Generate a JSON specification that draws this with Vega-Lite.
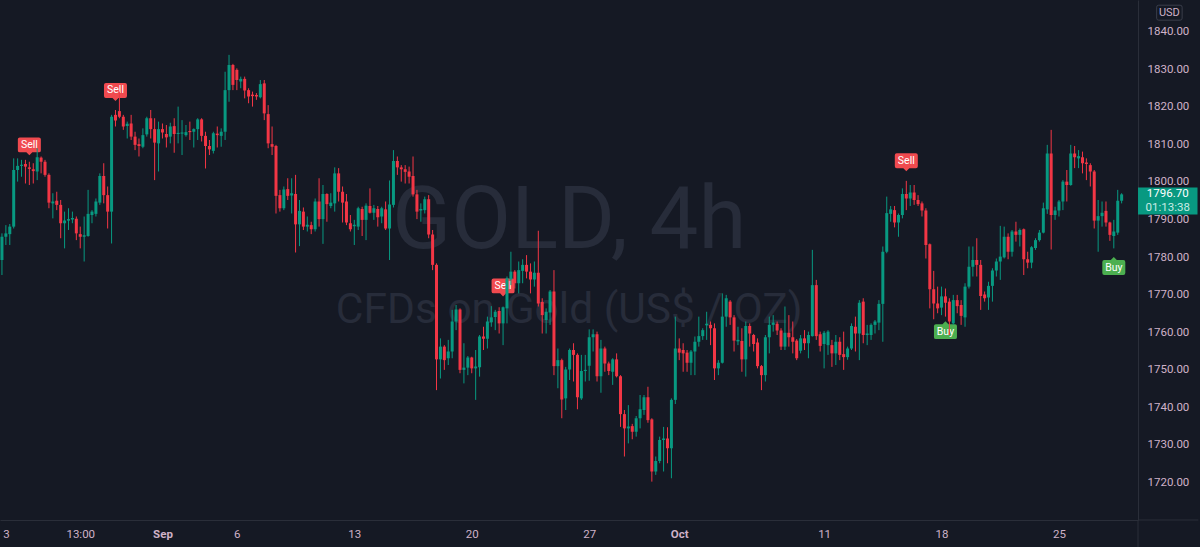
{
  "$schema": "https://vega.github.io/schema/vega-lite/v6.json",
  "width": 1138,
  "height": 520,
  "autosize": {"type": "none"},
  "padding": {"left": 0, "top": 0, "right": 62, "bottom": 27},
  "background": "#151924",
  "config": {"view": {"stroke": null}, "font": "Roboto"},
  "datasets": {
    "candles": [
      {"i":0,"o":1779.2,"h":1786.3,"l":1775.2,"c":1785.4},
      {"i":1,"o":1785.4,"h":1788.5,"l":1783.2,"c":1786.3},
      {"i":2,"o":1786.1,"h":1788.8,"l":1783.2,"c":1788.1},
      {"i":3,"o":1788.1,"h":1806.3,"l":1787.6,"c":1803.2},
      {"i":4,"o":1803.2,"h":1806.3,"l":1800.1,"c":1804.3},
      {"i":5,"o":1804.3,"h":1805.9,"l":1801.4,"c":1804.6},
      {"i":6,"o":1804.8,"h":1805.9,"l":1799.6,"c":1804.1},
      {"i":7,"o":1803.9,"h":1805.4,"l":1799.2,"c":1803.5},
      {"i":8,"o":1803.4,"h":1805.0,"l":1799.6,"c":1802.9},
      {"i":9,"o":1802.8,"h":1809.0,"l":1800.5,"c":1806.6},
      {"i":10,"o":1806.5,"h":1806.8,"l":1802.3,"c":1805.4},
      {"i":11,"o":1805.4,"h":1805.9,"l":1801.4,"c":1801.9},
      {"i":12,"o":1801.9,"h":1802.3,"l":1793.0,"c":1794.5},
      {"i":13,"o":1794.3,"h":1797.0,"l":1790.3,"c":1794.8},
      {"i":14,"o":1795.0,"h":1797.4,"l":1792.5,"c":1793.9},
      {"i":15,"o":1793.9,"h":1795.2,"l":1785.0,"c":1789.0},
      {"i":16,"o":1789.0,"h":1792.1,"l":1782.3,"c":1789.7},
      {"i":17,"o":1789.7,"h":1793.0,"l":1787.2,"c":1790.1},
      {"i":18,"o":1790.0,"h":1792.1,"l":1789.0,"c":1790.4},
      {"i":19,"o":1790.2,"h":1790.8,"l":1784.5,"c":1786.3},
      {"i":20,"o":1786.1,"h":1788.1,"l":1782.3,"c":1785.4},
      {"i":21,"o":1785.4,"h":1790.8,"l":1778.8,"c":1785.8},
      {"i":22,"o":1785.6,"h":1797.9,"l":1785.4,"c":1791.5},
      {"i":23,"o":1791.2,"h":1792.5,"l":1789.0,"c":1792.1},
      {"i":24,"o":1791.5,"h":1795.6,"l":1790.8,"c":1794.8},
      {"i":25,"o":1794.5,"h":1802.3,"l":1793.9,"c":1801.6},
      {"i":26,"o":1801.6,"h":1805.0,"l":1794.3,"c":1796.5},
      {"i":27,"o":1796.5,"h":1798.8,"l":1787.6,"c":1792.1},
      {"i":28,"o":1792.1,"h":1817.9,"l":1783.6,"c":1817.4},
      {"i":29,"o":1817.9,"h":1819.2,"l":1814.8,"c":1816.4},
      {"i":30,"o":1818.9,"h":1824.1,"l":1817.0,"c":1817.4},
      {"i":31,"o":1817.4,"h":1817.9,"l":1813.9,"c":1814.8},
      {"i":32,"o":1814.9,"h":1816.1,"l":1811.6,"c":1815.5},
      {"i":33,"o":1815.6,"h":1817.9,"l":1811.2,"c":1812.1},
      {"i":34,"o":1812.1,"h":1813.4,"l":1808.5,"c":1809.9},
      {"i":35,"o":1810.1,"h":1811.6,"l":1806.8,"c":1809.6},
      {"i":36,"o":1809.4,"h":1814.3,"l":1809.0,"c":1812.5},
      {"i":37,"o":1812.7,"h":1817.4,"l":1812.1,"c":1817.0},
      {"i":38,"o":1817.0,"h":1819.2,"l":1811.6,"c":1814.1},
      {"i":39,"o":1814.1,"h":1817.0,"l":1800.5,"c":1810.5},
      {"i":40,"o":1810.3,"h":1816.1,"l":1802.8,"c":1814.1},
      {"i":41,"o":1814.1,"h":1815.6,"l":1811.6,"c":1813.2},
      {"i":42,"o":1812.8,"h":1815.2,"l":1809.2,"c":1811.9},
      {"i":43,"o":1812.1,"h":1815.8,"l":1810.3,"c":1814.8},
      {"i":44,"o":1814.9,"h":1817.0,"l":1807.8,"c":1812.8},
      {"i":45,"o":1812.8,"h":1820.1,"l":1810.3,"c":1813.1},
      {"i":46,"o":1812.9,"h":1816.5,"l":1807.2,"c":1813.2},
      {"i":47,"o":1812.5,"h":1815.2,"l":1812.1,"c":1813.3},
      {"i":48,"o":1813.6,"h":1816.1,"l":1811.2,"c":1813.3},
      {"i":49,"o":1813.4,"h":1814.3,"l":1809.2,"c":1814.1},
      {"i":50,"o":1814.1,"h":1817.0,"l":1811.2,"c":1816.7},
      {"i":51,"o":1816.7,"h":1817.0,"l":1810.8,"c":1812.3},
      {"i":52,"o":1812.3,"h":1813.4,"l":1803.6,"c":1809.6},
      {"i":53,"o":1809.6,"h":1811.2,"l":1807.2,"c":1808.7},
      {"i":54,"o":1808.3,"h":1813.4,"l":1807.6,"c":1813.0},
      {"i":55,"o":1812.9,"h":1814.8,"l":1809.2,"c":1812.5},
      {"i":56,"o":1812.3,"h":1814.3,"l":1809.4,"c":1813.4},
      {"i":57,"o":1813.4,"h":1829.4,"l":1811.2,"c":1824.5},
      {"i":58,"o":1824.5,"h":1833.9,"l":1821.4,"c":1831.2},
      {"i":59,"o":1831.2,"h":1831.5,"l":1824.5,"c":1825.9},
      {"i":60,"o":1829.9,"h":1830.3,"l":1824.5,"c":1827.2},
      {"i":61,"o":1826.8,"h":1828.1,"l":1825.0,"c":1827.5},
      {"i":62,"o":1827.5,"h":1828.1,"l":1822.3,"c":1824.4},
      {"i":63,"o":1824.5,"h":1825.0,"l":1821.0,"c":1822.8},
      {"i":64,"o":1823.3,"h":1824.1,"l":1820.1,"c":1822.9},
      {"i":65,"o":1823.2,"h":1823.7,"l":1821.9,"c":1822.8},
      {"i":66,"o":1822.6,"h":1827.2,"l":1822.3,"c":1826.1},
      {"i":67,"o":1826.3,"h":1827.2,"l":1816.5,"c":1818.3},
      {"i":68,"o":1818.1,"h":1820.5,"l":1809.0,"c":1810.3},
      {"i":69,"o":1810.1,"h":1814.8,"l":1807.2,"c":1809.4},
      {"i":70,"o":1809.6,"h":1809.9,"l":1791.6,"c":1796.3},
      {"i":71,"o":1796.5,"h":1797.9,"l":1792.1,"c":1793.0},
      {"i":72,"o":1793.0,"h":1798.8,"l":1792.5,"c":1798.0},
      {"i":73,"o":1798.1,"h":1801.0,"l":1795.2,"c":1796.3},
      {"i":74,"o":1796.4,"h":1801.0,"l":1791.6,"c":1797.0},
      {"i":75,"o":1796.8,"h":1801.9,"l":1781.2,"c":1788.7},
      {"i":76,"o":1788.7,"h":1795.2,"l":1782.9,"c":1792.3},
      {"i":77,"o":1792.1,"h":1793.2,"l":1787.2,"c":1788.1},
      {"i":78,"o":1788.1,"h":1790.8,"l":1786.8,"c":1788.6},
      {"i":79,"o":1788.5,"h":1789.4,"l":1786.1,"c":1787.4},
      {"i":80,"o":1787.4,"h":1795.6,"l":1786.8,"c":1794.8},
      {"i":81,"o":1794.8,"h":1801.0,"l":1788.1,"c":1790.1},
      {"i":82,"o":1790.1,"h":1799.2,"l":1783.5,"c":1796.8},
      {"i":83,"o":1796.8,"h":1797.0,"l":1789.4,"c":1794.1},
      {"i":84,"o":1793.6,"h":1797.0,"l":1793.0,"c":1794.5},
      {"i":85,"o":1794.3,"h":1803.9,"l":1792.1,"c":1802.3},
      {"i":86,"o":1802.3,"h":1803.7,"l":1794.8,"c":1797.4},
      {"i":87,"o":1797.4,"h":1798.8,"l":1789.2,"c":1794.5},
      {"i":88,"o":1794.8,"h":1796.8,"l":1788.5,"c":1789.2},
      {"i":89,"o":1789.0,"h":1791.2,"l":1786.8,"c":1787.4},
      {"i":90,"o":1788.2,"h":1789.9,"l":1783.2,"c":1788.6},
      {"i":91,"o":1788.1,"h":1793.4,"l":1787.2,"c":1793.0},
      {"i":92,"o":1792.8,"h":1793.4,"l":1785.6,"c":1789.9},
      {"i":93,"o":1789.9,"h":1794.3,"l":1784.5,"c":1793.7},
      {"i":94,"o":1793.6,"h":1798.3,"l":1791.6,"c":1791.8},
      {"i":95,"o":1791.8,"h":1793.9,"l":1789.9,"c":1793.0},
      {"i":96,"o":1792.8,"h":1793.6,"l":1788.1,"c":1790.6},
      {"i":97,"o":1790.8,"h":1793.4,"l":1789.0,"c":1793.0},
      {"i":98,"o":1792.7,"h":1794.8,"l":1787.2,"c":1787.6},
      {"i":99,"o":1787.6,"h":1800.4,"l":1779.2,"c":1794.0},
      {"i":100,"o":1793.9,"h":1808.5,"l":1793.2,"c":1805.6},
      {"i":101,"o":1805.6,"h":1806.8,"l":1801.9,"c":1803.9},
      {"i":102,"o":1803.9,"h":1804.5,"l":1800.1,"c":1803.4},
      {"i":103,"o":1803.4,"h":1804.5,"l":1799.6,"c":1802.7},
      {"i":104,"o":1802.8,"h":1804.1,"l":1799.6,"c":1801.4},
      {"i":105,"o":1801.6,"h":1806.8,"l":1796.1,"c":1796.7},
      {"i":106,"o":1796.7,"h":1797.9,"l":1790.1,"c":1792.1},
      {"i":107,"o":1792.4,"h":1794.3,"l":1789.4,"c":1792.8},
      {"i":108,"o":1792.5,"h":1796.1,"l":1791.6,"c":1795.4},
      {"i":109,"o":1795.4,"h":1796.5,"l":1785.0,"c":1786.0},
      {"i":110,"o":1786.0,"h":1787.2,"l":1776.5,"c":1777.9},
      {"i":111,"o":1777.9,"h":1778.3,"l":1744.5,"c":1752.7},
      {"i":112,"o":1752.7,"h":1758.3,"l":1747.6,"c":1756.1},
      {"i":113,"o":1756.1,"h":1756.5,"l":1749.9,"c":1752.5},
      {"i":114,"o":1753.0,"h":1757.9,"l":1751.2,"c":1754.8},
      {"i":115,"o":1754.8,"h":1765.9,"l":1753.0,"c":1762.8},
      {"i":116,"o":1762.8,"h":1767.2,"l":1760.5,"c":1766.0},
      {"i":117,"o":1766.0,"h":1766.3,"l":1749.0,"c":1749.9},
      {"i":118,"o":1749.9,"h":1757.0,"l":1746.3,"c":1750.5},
      {"i":119,"o":1750.5,"h":1753.6,"l":1748.5,"c":1753.2},
      {"i":120,"o":1753.2,"h":1753.4,"l":1749.0,"c":1750.3},
      {"i":121,"o":1750.3,"h":1755.2,"l":1741.9,"c":1750.8},
      {"i":122,"o":1750.6,"h":1759.2,"l":1748.1,"c":1758.8},
      {"i":123,"o":1758.8,"h":1761.4,"l":1755.2,"c":1758.2},
      {"i":124,"o":1758.2,"h":1764.1,"l":1755.6,"c":1762.8},
      {"i":125,"o":1762.6,"h":1766.9,"l":1761.4,"c":1763.9},
      {"i":126,"o":1764.0,"h":1765.9,"l":1760.5,"c":1765.4},
      {"i":127,"o":1765.6,"h":1766.6,"l":1759.6,"c":1762.3},
      {"i":128,"o":1762.3,"h":1766.8,"l":1756.5,"c":1766.6},
      {"i":129,"o":1766.3,"h":1774.8,"l":1762.3,"c":1774.3},
      {"i":130,"o":1774.0,"h":1781.4,"l":1772.5,"c":1776.1},
      {"i":131,"o":1776.1,"h":1776.5,"l":1771.6,"c":1773.0},
      {"i":132,"o":1773.0,"h":1778.8,"l":1770.3,"c":1776.5},
      {"i":133,"o":1776.3,"h":1779.4,"l":1773.0,"c":1777.9},
      {"i":134,"o":1777.9,"h":1780.5,"l":1774.3,"c":1776.1},
      {"i":135,"o":1776.1,"h":1778.3,"l":1770.3,"c":1774.0},
      {"i":136,"o":1774.0,"h":1778.8,"l":1772.1,"c":1775.8},
      {"i":137,"o":1775.8,"h":1787.0,"l":1766.8,"c":1767.6},
      {"i":138,"o":1768.0,"h":1769.0,"l":1759.6,"c":1764.5},
      {"i":139,"o":1763.2,"h":1766.3,"l":1759.6,"c":1765.4},
      {"i":140,"o":1765.2,"h":1771.2,"l":1761.9,"c":1770.8},
      {"i":141,"o":1770.8,"h":1776.5,"l":1748.5,"c":1750.9},
      {"i":142,"o":1750.9,"h":1755.6,"l":1745.0,"c":1752.5},
      {"i":143,"o":1752.5,"h":1752.9,"l":1737.0,"c":1742.0},
      {"i":144,"o":1742.3,"h":1750.7,"l":1739.2,"c":1750.0},
      {"i":145,"o":1750.0,"h":1755.6,"l":1747.2,"c":1755.2},
      {"i":146,"o":1755.2,"h":1757.0,"l":1746.8,"c":1753.9},
      {"i":147,"o":1753.9,"h":1754.3,"l":1739.4,"c":1742.6},
      {"i":148,"o":1742.3,"h":1753.9,"l":1741.9,"c":1749.6},
      {"i":149,"o":1749.6,"h":1753.9,"l":1746.8,"c":1749.9},
      {"i":150,"o":1751.0,"h":1760.7,"l":1747.0,"c":1758.6},
      {"i":151,"o":1758.6,"h":1760.7,"l":1754.8,"c":1759.4},
      {"i":152,"o":1759.4,"h":1760.1,"l":1746.8,"c":1748.2},
      {"i":153,"o":1748.2,"h":1757.9,"l":1743.8,"c":1755.6},
      {"i":154,"o":1755.6,"h":1756.1,"l":1749.4,"c":1751.6},
      {"i":155,"o":1751.6,"h":1752.1,"l":1748.5,"c":1749.6},
      {"i":156,"o":1749.4,"h":1753.0,"l":1745.9,"c":1752.7},
      {"i":157,"o":1752.7,"h":1754.3,"l":1747.9,"c":1748.2},
      {"i":158,"o":1748.2,"h":1748.5,"l":1734.7,"c":1738.1},
      {"i":159,"o":1738.1,"h":1739.2,"l":1726.8,"c":1734.3},
      {"i":160,"o":1734.3,"h":1740.5,"l":1730.3,"c":1734.8},
      {"i":161,"o":1734.9,"h":1735.5,"l":1731.4,"c":1733.4},
      {"i":162,"o":1733.4,"h":1737.6,"l":1732.1,"c":1737.0},
      {"i":163,"o":1737.0,"h":1743.2,"l":1734.3,"c":1739.4},
      {"i":164,"o":1739.2,"h":1743.2,"l":1737.9,"c":1742.6},
      {"i":165,"o":1742.6,"h":1745.4,"l":1735.8,"c":1736.5},
      {"i":166,"o":1736.7,"h":1737.0,"l":1720.1,"c":1722.8},
      {"i":167,"o":1722.8,"h":1726.8,"l":1721.9,"c":1725.6},
      {"i":168,"o":1725.6,"h":1732.1,"l":1725.0,"c":1731.2},
      {"i":169,"o":1731.2,"h":1734.7,"l":1722.8,"c":1731.6},
      {"i":170,"o":1731.6,"h":1734.6,"l":1725.0,"c":1729.0},
      {"i":171,"o":1729.0,"h":1742.3,"l":1721.0,"c":1741.9},
      {"i":172,"o":1741.9,"h":1764.1,"l":1740.8,"c":1755.6},
      {"i":173,"o":1755.6,"h":1758.3,"l":1752.5,"c":1754.5},
      {"i":174,"o":1755.2,"h":1757.0,"l":1749.4,"c":1754.3},
      {"i":175,"o":1754.5,"h":1755.2,"l":1749.4,"c":1751.8},
      {"i":176,"o":1751.8,"h":1755.2,"l":1748.5,"c":1754.8},
      {"i":177,"o":1754.8,"h":1758.8,"l":1748.5,"c":1757.4},
      {"i":178,"o":1757.4,"h":1764.1,"l":1756.1,"c":1758.9},
      {"i":179,"o":1758.9,"h":1761.0,"l":1757.9,"c":1760.5},
      {"i":180,"o":1761.8,"h":1765.4,"l":1757.9,"c":1762.2},
      {"i":181,"o":1761.9,"h":1762.8,"l":1756.5,"c":1761.0},
      {"i":182,"o":1761.0,"h":1762.3,"l":1747.2,"c":1750.3},
      {"i":183,"o":1750.3,"h":1752.5,"l":1748.5,"c":1751.8},
      {"i":184,"o":1751.8,"h":1770.3,"l":1751.6,"c":1764.1},
      {"i":185,"o":1764.1,"h":1769.9,"l":1761.4,"c":1769.0},
      {"i":186,"o":1768.1,"h":1768.5,"l":1761.9,"c":1763.9},
      {"i":187,"o":1763.9,"h":1764.5,"l":1754.8,"c":1757.7},
      {"i":188,"o":1757.5,"h":1761.4,"l":1756.5,"c":1757.9},
      {"i":189,"o":1757.6,"h":1761.0,"l":1749.4,"c":1752.7},
      {"i":190,"o":1752.7,"h":1762.8,"l":1748.1,"c":1761.6},
      {"i":191,"o":1761.6,"h":1762.3,"l":1756.1,"c":1759.6},
      {"i":192,"o":1759.2,"h":1759.5,"l":1754.8,"c":1756.8},
      {"i":193,"o":1757.2,"h":1758.3,"l":1750.3,"c":1750.9},
      {"i":194,"o":1750.9,"h":1751.2,"l":1744.5,"c":1748.5},
      {"i":195,"o":1748.5,"h":1759.2,"l":1746.8,"c":1758.6},
      {"i":196,"o":1758.6,"h":1764.1,"l":1754.3,"c":1761.9},
      {"i":197,"o":1761.9,"h":1764.5,"l":1760.1,"c":1762.5},
      {"i":198,"o":1762.2,"h":1762.8,"l":1759.2,"c":1760.4},
      {"i":199,"o":1760.4,"h":1761.0,"l":1755.2,"c":1756.1},
      {"i":200,"o":1756.1,"h":1766.8,"l":1755.2,"c":1759.8},
      {"i":201,"o":1759.8,"h":1764.5,"l":1756.1,"c":1758.6},
      {"i":202,"o":1758.6,"h":1762.8,"l":1754.3,"c":1757.4},
      {"i":203,"o":1757.7,"h":1758.1,"l":1752.5,"c":1753.0},
      {"i":204,"o":1755.0,"h":1759.2,"l":1754.3,"c":1758.3},
      {"i":205,"o":1758.3,"h":1760.5,"l":1755.2,"c":1757.0},
      {"i":206,"o":1757.0,"h":1760.1,"l":1753.0,"c":1759.2},
      {"i":207,"o":1758.9,"h":1781.9,"l":1758.8,"c":1772.5},
      {"i":208,"o":1772.5,"h":1773.9,"l":1757.9,"c":1758.9},
      {"i":209,"o":1759.4,"h":1760.1,"l":1754.8,"c":1756.3},
      {"i":210,"o":1756.8,"h":1760.3,"l":1750.3,"c":1759.8},
      {"i":211,"o":1756.5,"h":1760.5,"l":1753.9,"c":1760.1},
      {"i":212,"o":1756.5,"h":1757.9,"l":1750.7,"c":1754.3},
      {"i":213,"o":1754.3,"h":1759.2,"l":1751.2,"c":1757.4},
      {"i":214,"o":1757.4,"h":1758.6,"l":1752.5,"c":1753.9},
      {"i":215,"o":1754.1,"h":1760.1,"l":1749.9,"c":1753.3},
      {"i":216,"o":1753.3,"h":1756.1,"l":1752.6,"c":1755.6},
      {"i":217,"o":1755.6,"h":1762.3,"l":1755.2,"c":1761.6},
      {"i":218,"o":1761.4,"h":1764.1,"l":1754.8,"c":1759.6},
      {"i":219,"o":1759.6,"h":1768.5,"l":1752.5,"c":1767.8},
      {"i":220,"o":1768.1,"h":1769.0,"l":1757.0,"c":1759.2},
      {"i":221,"o":1759.2,"h":1761.9,"l":1756.5,"c":1759.6},
      {"i":222,"o":1759.2,"h":1762.3,"l":1757.9,"c":1761.9},
      {"i":223,"o":1761.9,"h":1763.2,"l":1759.6,"c":1762.8},
      {"i":224,"o":1762.5,"h":1768.5,"l":1760.5,"c":1767.5},
      {"i":225,"o":1767.5,"h":1782.8,"l":1757.4,"c":1781.4},
      {"i":226,"o":1781.4,"h":1796.1,"l":1781.0,"c":1791.7},
      {"i":227,"o":1791.5,"h":1793.6,"l":1789.4,"c":1792.7},
      {"i":228,"o":1792.5,"h":1793.6,"l":1787.9,"c":1789.2},
      {"i":229,"o":1789.2,"h":1791.6,"l":1785.4,"c":1791.2},
      {"i":230,"o":1791.2,"h":1798.3,"l":1790.3,"c":1796.8},
      {"i":231,"o":1796.8,"h":1800.3,"l":1792.5,"c":1795.6},
      {"i":232,"o":1795.6,"h":1799.2,"l":1793.6,"c":1797.2},
      {"i":233,"o":1797.2,"h":1799.2,"l":1793.9,"c":1795.2},
      {"i":234,"o":1795.2,"h":1796.5,"l":1793.6,"c":1794.1},
      {"i":235,"o":1794.3,"h":1794.8,"l":1790.8,"c":1792.4},
      {"i":236,"o":1792.4,"h":1793.0,"l":1779.6,"c":1783.2},
      {"i":237,"o":1783.4,"h":1783.6,"l":1766.3,"c":1771.4},
      {"i":238,"o":1771.4,"h":1776.3,"l":1763.4,"c":1767.6},
      {"i":239,"o":1767.6,"h":1772.1,"l":1765.0,"c":1766.3},
      {"i":240,"o":1766.5,"h":1772.1,"l":1764.5,"c":1769.5},
      {"i":241,"o":1769.5,"h":1771.6,"l":1764.1,"c":1767.8},
      {"i":242,"o":1768.1,"h":1769.0,"l":1759.2,"c":1762.8},
      {"i":243,"o":1762.3,"h":1769.9,"l":1761.9,"c":1768.5},
      {"i":244,"o":1768.5,"h":1769.9,"l":1765.0,"c":1766.9},
      {"i":245,"o":1767.2,"h":1768.5,"l":1761.9,"c":1764.3},
      {"i":246,"o":1763.9,"h":1773.0,"l":1761.4,"c":1772.1},
      {"i":247,"o":1772.1,"h":1782.8,"l":1771.6,"c":1777.4},
      {"i":248,"o":1777.4,"h":1782.8,"l":1774.8,"c":1779.2},
      {"i":249,"o":1779.2,"h":1785.0,"l":1774.8,"c":1777.9},
      {"i":250,"o":1777.9,"h":1779.2,"l":1765.9,"c":1769.6},
      {"i":251,"o":1770.0,"h":1770.8,"l":1768.1,"c":1769.0},
      {"i":252,"o":1769.2,"h":1773.4,"l":1765.9,"c":1772.3},
      {"i":253,"o":1772.3,"h":1777.0,"l":1768.1,"c":1776.4},
      {"i":254,"o":1776.4,"h":1779.6,"l":1774.8,"c":1778.8},
      {"i":255,"o":1778.8,"h":1788.3,"l":1773.9,"c":1780.1},
      {"i":256,"o":1779.9,"h":1788.1,"l":1779.6,"c":1785.4},
      {"i":257,"o":1785.4,"h":1786.3,"l":1779.4,"c":1781.4},
      {"i":258,"o":1781.4,"h":1787.2,"l":1780.1,"c":1786.8},
      {"i":259,"o":1786.8,"h":1789.4,"l":1784.1,"c":1785.9},
      {"i":260,"o":1785.9,"h":1787.6,"l":1782.8,"c":1787.2},
      {"i":261,"o":1787.4,"h":1787.6,"l":1775.2,"c":1779.4},
      {"i":262,"o":1779.4,"h":1781.4,"l":1777.0,"c":1778.5},
      {"i":263,"o":1778.5,"h":1782.9,"l":1777.0,"c":1782.6},
      {"i":264,"o":1782.4,"h":1785.0,"l":1781.9,"c":1784.5},
      {"i":265,"o":1784.5,"h":1787.2,"l":1784.1,"c":1786.5},
      {"i":266,"o":1786.5,"h":1794.5,"l":1786.3,"c":1793.0},
      {"i":267,"o":1792.7,"h":1809.9,"l":1791.5,"c":1807.6},
      {"i":268,"o":1807.6,"h":1813.9,"l":1782.0,"c":1791.2},
      {"i":269,"o":1791.2,"h":1793.4,"l":1789.9,"c":1792.4},
      {"i":270,"o":1792.4,"h":1795.2,"l":1790.8,"c":1794.8},
      {"i":271,"o":1794.8,"h":1800.5,"l":1792.5,"c":1800.1},
      {"i":272,"o":1800.1,"h":1803.2,"l":1794.8,"c":1799.2},
      {"i":273,"o":1799.2,"h":1809.9,"l":1799.0,"c":1807.6},
      {"i":274,"o":1807.6,"h":1809.6,"l":1803.7,"c":1806.6},
      {"i":275,"o":1806.3,"h":1808.5,"l":1803.7,"c":1806.9},
      {"i":276,"o":1806.6,"h":1808.1,"l":1802.3,"c":1805.0},
      {"i":277,"o":1805.2,"h":1806.3,"l":1800.5,"c":1804.8},
      {"i":278,"o":1804.5,"h":1805.0,"l":1798.8,"c":1802.8},
      {"i":279,"o":1802.8,"h":1803.2,"l":1787.6,"c":1789.7},
      {"i":280,"o":1789.7,"h":1795.2,"l":1781.4,"c":1790.9},
      {"i":281,"o":1790.9,"h":1794.8,"l":1788.1,"c":1791.8},
      {"i":282,"o":1792.3,"h":1794.8,"l":1788.1,"c":1789.2},
      {"i":283,"o":1789.2,"h":1789.4,"l":1784.3,"c":1785.9},
      {"i":284,"o":1785.6,"h":1789.9,"l":1782.3,"c":1786.8},
      {"i":285,"o":1786.5,"h":1797.9,"l":1785.9,"c":1795.0},
      {"i":286,"o":1795.0,"h":1797.0,"l":1794.3,"c":1796.7}
    ],
    "signals": [
      {"i": 7, "price": 1809.9, "signal": "Sell"},
      {"i": 29, "price": 1824.4, "signal": "Sell"},
      {"i": 128, "price": 1772.3, "signal": "Sell"},
      {"i": 231, "price": 1805.65, "signal": "Sell"},
      {"i": 241, "price": 1760.1, "signal": "Buy"},
      {"i": 284, "price": 1777.2, "signal": "Buy"}
    ],
    "last": [{"price": 1796.7, "countdown": "01:13:38"}]
  },
  "layer": [
    {
      "data": {"values": [{"t": "GOLD, 4h"}]},
      "mark": {"type": "text", "font": "Roboto", "fontSize": 87, "align": "center", "baseline": "alphabetic", "color": "#272c3a"},
      "encoding": {
        "x": {"datum": 144.89, "type": "quantitative", "scale": {"domain": [-0.498, 290.18], "nice": false, "zero": false, "padding": 0}},
        "y": {"datum": 1782.32, "type": "quantitative", "scale": {"domain": [1709.867, 1848.533], "nice": false, "zero": false}},
        "text": {"field": "t"}
      }
    },
    {
      "data": {"values": [{"t": "CFDs on Gold (US$ / OZ)"}]},
      "mark": {"type": "text", "font": "Roboto", "fontSize": 42.5, "align": "center", "baseline": "alphabetic", "color": "#272c3a"},
      "encoding": {
        "x": {"datum": 144.89, "type": "quantitative"},
        "y": {"datum": 1762.32, "type": "quantitative"},
        "text": {"field": "t"}
      }
    },
    {
      "data": {"values": [{"t": "frame"}]},
      "mark": {"type": "rule", "color": "#2a2e39", "strokeWidth": 1},
      "encoding": {
        "x": {"datum": 290.18, "type": "quantitative"},
        "x2": {"datum": 305.6},
        "y": {"datum": 1709.867, "type": "quantitative"}
      }
    },
    {
      "data": {"values": [{"t": "frame"}]},
      "mark": {"type": "rule", "color": "#2a2e39", "strokeWidth": 1},
      "encoding": {
        "x": {"datum": 290.18, "type": "quantitative"},
        "y": {"datum": 1709.867, "type": "quantitative"},
        "y2": {"datum": 1702.6}
      }
    },
    {
      "data": {"name": "signals"},
      "mark": {"type": "point", "filled": true, "opacity": 1, "size": 529, "strokeWidth": 0},
      "encoding": {
        "x": {"field": "i", "type": "quantitative"},
        "y": {"field": "price", "type": "quantitative"},
        "shape": {"condition": {"test": "datum.signal == 'Sell'", "value": "M-0.83,-0.652L0.83,-0.652Q1,-0.652,1,-0.48L1,0.48Q1,0.652,0.83,0.652L0.26,0.652L0,0.913L-0.26,0.652L-0.83,0.652Q-1,0.652,-1,0.48L-1,-0.48Q-1,-0.652,-0.83,-0.652Z"}, "value": "M-0.83,-0.652L-0.26,-0.652L0,-0.913L0.26,-0.652L0.83,-0.652Q1,-0.652,1,-0.48L1,0.48Q1,0.652,0.83,0.652L-0.83,0.652Q-1,0.652,-1,0.48L-1,-0.48Q-1,-0.652,-0.83,-0.652Z"},
        "color": {"condition": {"test": "datum.signal == 'Sell'", "value": "#f04a4f"}, "value": "#4caf50"}
      }
    },
    {
      "data": {"name": "signals"},
      "mark": {"type": "text", "font": "Roboto", "fontSize": 10.5, "color": "#ffffff", "align": "center", "baseline": "middle"},
      "encoding": {
        "x": {"field": "i", "type": "quantitative"},
        "y": {"field": "price", "type": "quantitative"},
        "text": {"field": "signal"}
      }
    },
    {
      "data": {"name": "candles"},
      "mark": {"type": "rule", "strokeWidth": 1},
      "encoding": {
        "x": {
          "field": "i", "type": "quantitative",
          "scale": {"domain": [-0.498, 290.18], "nice": false, "zero": false, "padding": 0},
          "axis": {
            "title": null, "grid": false, "ticks": false, "tickSize": 0,
            "values": [1, 20, 41, 60, 90, 120, 150, 173, 210, 240, 270],
            "labelExpr": "datum.value == 1 ? '3' : datum.value == 20 ? '13:00' : datum.value == 41 ? 'Sep' : datum.value == 60 ? '6' : datum.value == 90 ? '13' : datum.value == 120 ? '20' : datum.value == 150 ? '27' : datum.value == 173 ? 'Oct' : datum.value == 210 ? '11' : datum.value == 240 ? '18' : datum.value == 270 ? '25' : ''",
            "labelFlush": false, "labelOverlap": false, "labelFont": "Roboto", "labelFontSize": 11.5,
            "labelColor": "#cfb2c8", "labelPadding": 8,
            "labelFontWeight": {"condition": {"test": "datum.value == 41 || datum.value == 173", "value": "bold"}, "value": "normal"},
            "domain": true, "domainColor": "#2a2e39", "domainWidth": 1
          }
        },
        "y": {
          "field": "l", "type": "quantitative",
          "scale": {"domain": [1709.867, 1848.533], "nice": false, "zero": false},
          "axis": {
            "orient": "right", "title": null, "grid": false, "ticks": false, "tickSize": 0,
            "values": [1720, 1730, 1740, 1750, 1760, 1770, 1780, 1790, 1800, 1810, 1820, 1830, 1840],
            "format": ".2f", "labelFont": "Roboto", "labelFontSize": 11.5, "labelColor": "#cfb2c8",
            "labelPadding": 9, "labelBaseline": "middle", "labelOverlap": false, "labelFlush": false,
            "domain": true, "domainColor": "#2a2e39", "domainWidth": 1
          }
        },
        "y2": {"field": "h"},
        "color": {"condition": {"test": "datum.c >= datum.o", "value": "#089981"}, "value": "#f23645"}
      }
    },
    {
      "data": {"name": "candles"},
      "mark": {"type": "bar", "width": 3},
      "encoding": {
        "x": {"field": "i", "type": "quantitative"},
        "y": {"field": "o", "type": "quantitative"},
        "y2": {"field": "c"},
        "color": {"condition": {"test": "datum.c >= datum.o", "value": "#089981"}, "value": "#f23645"}
      }
    },
    {
      "data": {"name": "last"},
      "mark": {"type": "point", "filled": true, "opacity": 1, "size": 3540, "strokeWidth": 0, "yOffset": 6.6, "shape": "M-1,-0.457L1,-0.457L1,0.457L-1,0.457Z", "color": "#089981"},
      "encoding": {
        "x": {"datum": 297.78, "type": "quantitative"},
        "y": {"field": "price", "type": "quantitative"}
      }
    },
    {
      "data": {"name": "last"},
      "mark": {"type": "text", "font": "Roboto", "fontSize": 11.5, "color": "#ffffff", "align": "center", "baseline": "middle"},
      "encoding": {
        "x": {"datum": 297.78, "type": "quantitative"},
        "y": {"field": "price", "type": "quantitative"},
        "text": {"field": "price", "format": ".2f"}
      }
    },
    {
      "data": {"name": "last"},
      "mark": {"type": "text", "font": "Roboto", "fontSize": 11.5, "color": "#c9ece5", "align": "center", "baseline": "middle", "yOffset": 13.5},
      "encoding": {
        "x": {"datum": 297.78, "type": "quantitative"},
        "y": {"field": "price", "type": "quantitative"},
        "text": {"field": "countdown"}
      }
    },
    {
      "data": {"values": [{"t": "USD"}]},
      "mark": {"type": "point", "filled": false, "opacity": 1, "size": 650, "strokeWidth": 1, "color": "#3a3e4a", "shape": "M-0.84,-0.588L0.84,-0.588Q1,-0.588,1,-0.43L1,0.43Q1,0.588,0.84,0.588L-0.84,0.588Q-1,0.588,-1,0.43L-1,-0.43Q-1,-0.588,-0.84,-0.588Z"},
      "encoding": {
        "x": {"datum": 298.2, "type": "quantitative"},
        "y": {"datum": 1845.15, "type": "quantitative"}
      }
    },
    {
      "data": {"values": [{"t": "USD"}]},
      "mark": {"type": "text", "font": "Roboto", "fontSize": 11, "color": "#cfb2c8", "align": "center", "baseline": "middle"},
      "encoding": {
        "x": {"datum": 298.2, "type": "quantitative"},
        "y": {"datum": 1845.15, "type": "quantitative"},
        "text": {"field": "t"}
      }
    }
  ]
}
